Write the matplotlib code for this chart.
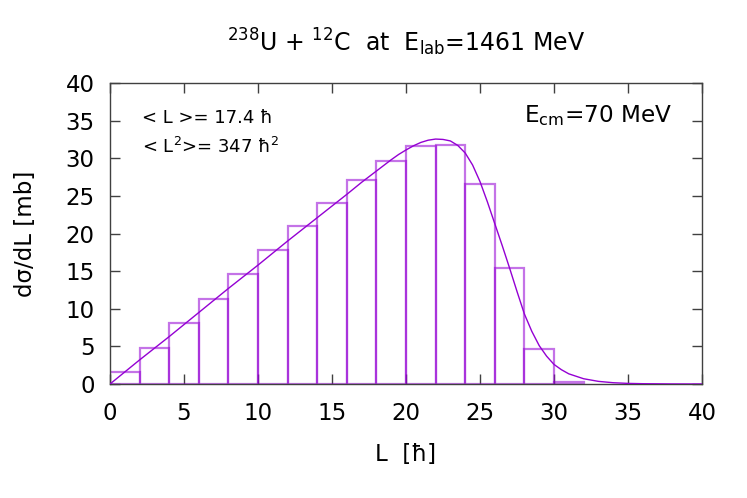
import numpy as np
import matplotlib
matplotlib.use('Agg')
import matplotlib.pyplot as plt

# histogram of partial cross sections, bins of width 2 hbar
bin_left = [0, 2, 4, 6, 8, 10, 12, 14, 16, 18, 20, 22, 24, 26, 28, 30]
sigma_bins = [1.65, 4.85, 8.1, 11.35, 14.6, 17.85, 21.05, 24.1, 27.1, 29.65,
              31.65, 31.8, 26.6, 15.4, 4.65, 0.2]

# smooth curve
curve_L = [0, 2, 4, 6, 8, 10, 12, 14, 16, 17, 18, 19, 19.5, 20, 20.5, 21,
           21.5, 22, 22.5, 23, 23.5, 24, 24.5, 25, 25.5, 26, 26.5, 27, 27.5,
           28, 28.5, 29, 29.5, 30, 30.5, 31, 32, 33, 34, 35, 36, 38, 40]
curve_sig = [0, 3.2, 6.3, 9.5, 12.7, 15.8, 19.0, 22.1, 25.2, 26.8, 28.3,
             29.8, 30.5, 31.1, 31.65, 32.1, 32.4, 32.55, 32.5, 32.3, 31.7,
             30.7, 29.1, 26.9, 24.2, 21.3, 18.4, 15.4, 12.3, 9.3, 7.0, 5.1,
             3.7, 2.6, 1.9, 1.35, 0.7, 0.35, 0.17, 0.08, 0.04, 0.01, 0.0]

violet = '#9400D3'
plt.rcParams['font.family'] = ['DejaVu Sans']
plt.rcParams['mathtext.fontset'] = 'dejavusans'

fig = plt.figure(figsize=(7.47, 4.98), dpi=100)
ax = fig.add_axes([110/747, 1-384/498, 592/747, 301/498])

ax.bar(bin_left, sigma_bins, width=2, align='edge', facecolor='none',
       edgecolor=(0.58, 0.0, 0.83, 0.55), linewidth=1.6, zorder=2)
ax.plot(curve_L, curve_sig, color=violet, lw=1.0, zorder=3)

ax.set_xlim(0, 40)
ax.set_ylim(0, 40)
ax.set_xticks(np.arange(0, 41, 5))
ax.set_yticks(np.arange(0, 41, 5))
ax.tick_params(direction='in', length=7.5, width=1, top=True, right=True,
               labelsize=16.5, color='#404040')
ax.tick_params(axis='x', pad=13)
ax.tick_params(axis='y', pad=11)
for s in ax.spines.values():
    s.set_color('#404040')
    s.set_linewidth(1)

ax.set_xlabel('L  [ħ]', fontsize=16.5)
ax.xaxis.set_label_coords(0.5, -0.196)
ax.set_ylabel('dσ/dL [mb]', fontsize=16.5)
ax.yaxis.set_label_coords(-0.124, 0.5)
fig.text(406/747, 1-51/498, r'$^{238}$U + $^{12}$C  at  E$_{\rm lab}$=1461 MeV',
         fontsize=17, ha='center', va='baseline')

ax.text(0.0535, 0.867, '< L >= 17.4 ħ', transform=ax.transAxes, fontsize=13,
        va='baseline', ha='left')
ax.text(0.0535, 0.768, r'< L$^2$>= 347 ħ$^2$', transform=ax.transAxes, fontsize=13,
        va='baseline', ha='left')
ax.text(0.949, 0.871, r'E$_{\rm cm}$=70 MeV', transform=ax.transAxes, fontsize=16.7,
        va='baseline', ha='right')

fig.savefig('out.png', dpi=100)
